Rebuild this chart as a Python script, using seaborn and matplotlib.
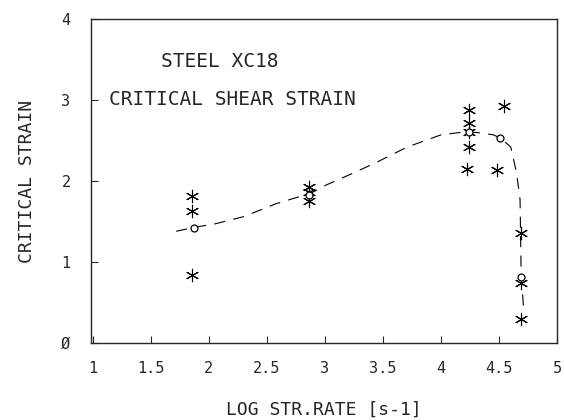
import numpy as np
import pandas as pd
import matplotlib
matplotlib.use("Agg")
import matplotlib.pyplot as plt
import seaborn as sns

# measured points (stars) and mean values (circles)
star_x = [1.86, 1.86, 1.86,
          2.86, 2.86, 2.86,
          4.24, 4.24, 4.24, 4.24, 4.22, 4.54, 4.48,
          4.69, 4.69, 4.69]
star_y = [1.81, 1.63, 0.84,
          1.93, 1.86, 1.75,
          2.87, 2.72, 2.61, 2.42, 2.15, 2.92, 2.14,
          1.36, 0.74, 0.30]

mean_x = [1.87, 2.86, 4.24, 4.51, 4.69]
mean_y = [1.42, 1.83, 2.61, 2.53, 0.82]

# dashed fit curve
curve_x = [1.72, 1.88, 2.05, 2.30, 2.58, 2.88, 3.01, 3.20, 3.43, 3.71,
           4.00, 4.17, 4.30, 4.45, 4.51, 4.60, 4.65, 4.68, 4.69, 4.71]
curve_y = [1.38, 1.43, 1.47, 1.56, 1.72, 1.85, 1.95, 2.07, 2.22, 2.42,
           2.57, 2.60, 2.60, 2.57, 2.53, 2.42, 2.10, 1.77, 0.80, 0.45]

x_ticks = [1, 1.5, 2, 2.5, 3, 3.5, 4, 4.5, 5]
x_labels = ["1", "1.5", "2", "2.5", "3", "3.5", "4", "4.5", "5"]
y_ticks = [0, 1, 2, 3, 4]
y_labels = ["Ø", "1", "2", "3", "4"]

sns.set_style("ticks")
plt.rcParams["font.family"] = ["DejaVu Sans Mono", "DejaVu Sans"]
plt.rcParams["lines.scale_dashes"] = False

fig = plt.figure(figsize=(5.64, 4.2), dpi=100)
ax = fig.add_axes([0.162, 0.183, 0.826, 0.772])

curve = pd.DataFrame({"x": curve_x, "y": curve_y})
sns.lineplot(data=curve, x="x", y="y", ax=ax, color="black", lw=0.8,
             sort=False, estimator=None, linestyle=(0, (8, 6)))

stars = pd.DataFrame({"x": star_x, "y": star_y})
sns.scatterplot(data=stars, x="x", y="y", ax=ax, marker=(6, 2, 0),
                s=80, color="black", linewidth=0.8)

means = pd.DataFrame({"x": mean_x, "y": mean_y})
sns.scatterplot(data=means, x="x", y="y", ax=ax, marker="o", s=25,
                facecolor="white", edgecolor="black", linewidth=0.9, zorder=3)

ax.set_xlim(0.99, 5.0)
ax.set_ylim(0, 4)
ax.set_xticks(x_ticks)
ax.set_xticklabels(x_labels)
ax.set_yticks(y_ticks)
ax.set_yticklabels(y_labels)
ax.tick_params(direction="in", length=5, width=0.8, labelsize=11)
ax.tick_params(axis="x", pad=13)
ax.tick_params(axis="y", pad=15)
for s in ax.spines.values():
    s.set_linewidth(1.0)
    s.set_visible(True)

ax.set_xlabel("LOG STR.RATE [s-1]", fontsize=13, labelpad=18)
ax.set_ylabel("CRITICAL STRAIN", fontsize=13, labelpad=18)

ax.text(1.59, 3.47, "STEEL XC18", fontsize=14, va="center", ha="left")
ax.text(1.14, 3.0, "CRITICAL SHEAR STRAIN", fontsize=14, va="center", ha="left")

plt.savefig("out.png", dpi=100)
